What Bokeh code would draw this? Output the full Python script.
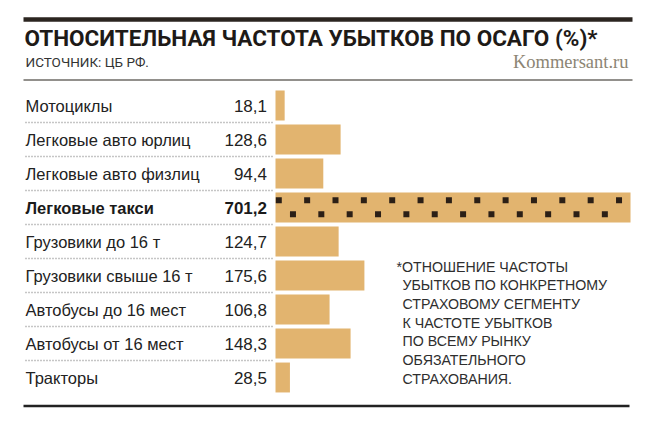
import numpy as np
from bokeh.plotting import figure
from bokeh.models import Range1d, ColumnDataSource
from bokeh.core.properties import value
from bokeh.embed import file_html
from bokeh.resources import INLINE

# ---------------- data ----------------
categories = ["Мотоциклы", "Легковые авто юрлиц", "Легковые авто физлиц",
              "Легковые такси", "Грузовики до 16 т", "Грузовики свыше 16 т",
              "Автобусы до 16 мест", "Автобусы от 16 мест", "Тракторы"]
values = [18.1, 128.6, 94.4, 701.2, 124.7, 175.6, 106.8, 148.3, 28.5]
value_labels = ["18,1", "128,6", "94,4", "701,2", "124,7", "175,6", "106,8", "148,3", "28,5"]
highlight = "Легковые такси"

title = "ОТНОСИТЕЛЬНАЯ ЧАСТОТА УБЫТКОВ ПО ОСАГО (%)*"
source_txt = "ИСТОЧНИК: ЦБ РФ."
brand = "Kommersant.ru"
footnote = ["*ОТНОШЕНИЕ ЧАСТОТЫ", "УБЫТКОВ ПО КОНКРЕТНОМУ", "СТРАХОВОМУ СЕГМЕНТУ",
            "К ЧАСТОТЕ УБЫТКОВ", "ПО ВСЕМУ РЫНКУ", "ОБЯЗАТЕЛЬНОГО", "СТРАХОВАНИЯ."]

# ---------------- layout helpers (figure pixels -> data units) ----------------
W, H = 636, 410
PX0 = 275.0     # pixel x of value 0
SC = 0.5063     # pixels per unit
PY0 = 105.0     # pixel y of first row centre
RS = 34.0       # pixels per row


def X(fx):
    return (fx - PX0) / SC


def Y(fy):
    return (fy - PY0) / RS


p = figure(width=W, height=H, output_backend="svg", toolbar_location=None,
           x_range=Range1d(X(0), X(W)), y_range=Range1d(Y(H), Y(0)),
           x_axis_type=None, y_axis_type=None, min_border=0,
           background_fill_color="white", border_fill_color="white")
p.outline_line_color = None
p.grid.visible = False

n = len(categories)
rows = list(range(n))
BAR = "#e2b46f"

# bars
src = ColumnDataSource(dict(y=rows, right=values))
p.hbar(y="y", left=0, right="right", height=0.88, source=src,
       fill_color=BAR, line_color=None)

# dotted pattern on highlighted bar
hi = categories.index(highlight)
hv = values[hi]
top_x = np.arange(6.5, hv - 4, 56.0)
bot_x = np.arange(34.5, hv - 20, 56.0)
p.scatter(x=top_x, y=[hi - 7.3 / RS] * len(top_x), marker="square", size=6,
          fill_color="#2b1f16", line_color=None)
p.scatter(x=bot_x, y=[hi + 6.7 / RS] * len(bot_x), marker="square", size=6,
          fill_color="#2b1f16", line_color=None)

# category labels and values
reg = [i for i in rows if i != hi]
lab_font = value("Liberation Sans")
base = 0.5 / RS
p.text(x=[X(25)] * len(reg), y=[i + base for i in reg], text=[categories[i] for i in reg],
       text_font=lab_font, text_font_size="16.5px", text_color="#222222",
       text_baseline="alphabetic", text_align="left")
p.text(x=[X(266.5)] * len(reg), y=[i + base for i in reg], text=[value_labels[i] for i in reg],
       text_font=lab_font, text_font_size="17px", text_color="#222222",
       text_baseline="alphabetic", text_align="right")
p.text(x=[X(25)], y=[hi + base], text=[categories[hi]],
       text_font=lab_font, text_font_size="16.5px", text_font_style="bold",
       text_color="#1a1a1a", text_baseline="alphabetic", text_align="left")
p.text(x=[X(266.5)], y=[hi + base], text=[value_labels[hi]],
       text_font=lab_font, text_font_size="17px", text_font_style="bold",
       text_color="#1a1a1a", text_baseline="alphabetic", text_align="right")

# dotted separators between rows
seps = [i + 0.5 for i in rows[:-1]]
p.segment(x0=[X(25)] * len(seps), x1=[X(272)] * len(seps), y0=seps, y1=seps,
          line_color="#8c8c8c", line_width=1.3, line_dash="1 2")

# rules
p.segment(x0=[X(23)], x1=[X(632)], y0=[Y(19)], y1=[Y(19)], line_color="#2b2520", line_width=4.5)
p.segment(x0=[X(23)], x1=[X(632)], y0=[Y(79.5)], y1=[Y(79.5)], line_color="#6e6b66", line_width=1.5)
p.segment(x0=[X(23)], x1=[X(629)], y0=[Y(405.5)], y1=[Y(405.5)], line_color="#222222", line_width=2.5)

# title block
p.text(x=[X(24)], y=[Y(37.5)], text=[title], text_font=value("Roboto"),
       text_font_size="22.5px", text_font_style="bold", text_color="#1e1a17",
       text_baseline="alphabetic", text_align="left")
p.text(x=[X(25)], y=[Y(61)], text=[source_txt], text_font=value("Roboto"),
       text_font_size="13.5px", text_color="#333333",
       text_baseline="alphabetic", text_align="left")
p.text(x=[X(628)], y=[Y(61)], text=[brand], text_font=value("Liberation Serif"),
       text_font_size="18.5px", text_color="#8c8574",
       text_baseline="alphabetic", text_align="right")

# footnote
fx = [X(396)] + [X(402)] * (len(footnote) - 1)
fy = [Y(266 + 18.7 * k) for k in range(len(footnote))]
p.text(x=fx, y=fy, text=footnote, text_font=value("Liberation Sans"),
       text_font_size="14.2px", text_color="#2e2e2e",
       text_baseline="alphabetic", text_align="left")

open("out.html", "w").write(file_html(p, INLINE))
